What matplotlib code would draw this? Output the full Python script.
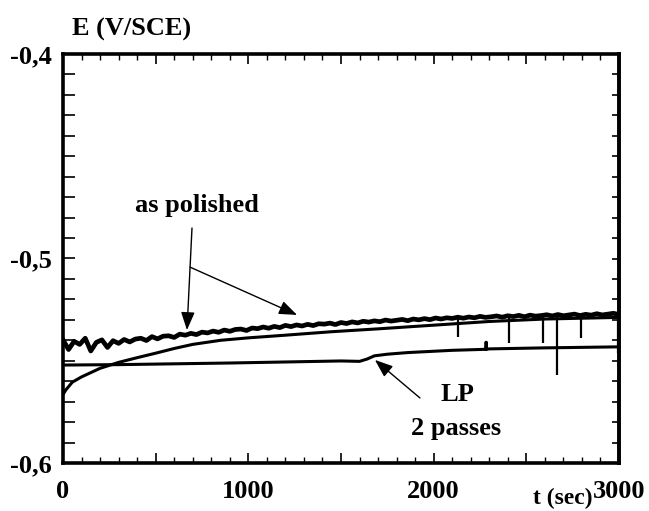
import numpy as np
import matplotlib
matplotlib.use("Agg")
import matplotlib.pyplot as plt
from matplotlib.ticker import MultipleLocator, FixedLocator

# "as polished" run 1 (noisy trace), read every 30 s
noisy_t = list(range(0, 3001, 30))
noisy_e = [
    -0.5398, -0.5445, -0.5405, -0.5420, -0.5390, -0.5452, -0.5410, -0.5398, -0.5435, -0.5402,
    -0.5415, -0.5396, -0.5408, -0.5394, -0.5390, -0.5401, -0.5382, -0.5393, -0.5380, -0.5378,
    -0.5386, -0.5370, -0.5375, -0.5366, -0.5372, -0.5360, -0.5364, -0.5355, -0.5361, -0.5350,
    -0.5356, -0.5347, -0.5345, -0.5352, -0.5340, -0.5343, -0.5335, -0.5341, -0.5332, -0.5338,
    -0.5327, -0.5333, -0.5325, -0.5330, -0.5322, -0.5328, -0.5319, -0.5321, -0.5316, -0.5323,
    -0.5313, -0.5318, -0.5310, -0.5315, -0.5307, -0.5311, -0.5305, -0.5309, -0.5301, -0.5306,
    -0.5302, -0.5298, -0.5304, -0.5296, -0.5300, -0.5294, -0.5299, -0.5291, -0.5296, -0.5290,
    -0.5293, -0.5287, -0.5292, -0.5286, -0.5290, -0.5283, -0.5288, -0.5285, -0.5281, -0.5287,
    -0.5280, -0.5284, -0.5278, -0.5285, -0.5277, -0.5282, -0.5279, -0.5275, -0.5281, -0.5274,
    -0.5280, -0.5276, -0.5272, -0.5279, -0.5273, -0.5277, -0.5270, -0.5276, -0.5272, -0.5268,
    -0.5274,
]

# downward glitches on the noisy trace
spike_t = [2133, 2407, 2590, 2666, 2795, 2995]
spike_top = [-0.5290, -0.5285, -0.5282, -0.5280, -0.5278, -0.5275]
spike_bottom = [-0.5384, -0.5413, -0.5413, -0.5570, -0.5389, -0.5460]

# "as polished" run 2 (smooth trace)
smooth_t = [0, 15, 50, 100, 200, 300, 400, 500, 600, 700, 850, 1000, 1200, 1450,
            1700, 2000, 2300, 2600, 3000]
smooth_e = [-0.5665, -0.5643, -0.5605, -0.5579, -0.5537, -0.5508, -0.5485, -0.5463,
            -0.5440, -0.5420, -0.5400, -0.5388, -0.5375, -0.5358, -0.5344, -0.5326,
            -0.5308, -0.5296, -0.5288]

# LP, 2 passes
lp_t = [0, 300, 600, 900, 1200, 1500, 1600, 1640, 1680, 1750, 1860, 2100, 2283, 2283,
        2283, 2300, 2600, 3000]
lp_e = [-0.5521, -0.5519, -0.5515, -0.5511, -0.5506, -0.5501, -0.5503, -0.5492,
        -0.5476, -0.5468, -0.5460, -0.5449, -0.5444, -0.5410, -0.5444, -0.5442,
        -0.5437, -0.5432]

x_labels = ["0", "", "1000", "", "2000", "", "3000"]
y_labels = ["-0,6", "-0,5", "-0,4"]

FONT = "Liberation Serif"

fig = plt.figure(figsize=(6.49, 5.11), dpi=100)
ax = fig.add_axes([63 / 649, 1 - 463 / 511, 556 / 649, 409 / 511])

ax.plot(noisy_t, noisy_e, color="black", lw=3.4)
ax.vlines(spike_t, spike_bottom, spike_top, color="black", lw=1.6)
ax.plot(smooth_t, smooth_e, color="black", lw=2.2)
ax.plot(lp_t, lp_e, color="black", lw=2.2)

ax.set_xlim(0, 3000)
ax.set_ylim(-0.6, -0.4)

for s in ax.spines.values():
    s.set_linewidth(2.6)

ax.xaxis.set_major_locator(FixedLocator(range(0, 3001, 500)))
ax.set_xticklabels(x_labels)
ax.xaxis.set_minor_locator(MultipleLocator(100))
ax.yaxis.set_major_locator(FixedLocator([-0.6, -0.5, -0.4]))
ax.set_yticklabels(y_labels)
ax.yaxis.set_minor_locator(MultipleLocator(0.01))

ax.tick_params(axis="x", which="major", direction="in", length=7, width=1.2,
               top=True, pad=12)
ax.tick_params(axis="x", which="minor", direction="in", length=4.5, width=1.0, top=True)
ax.tick_params(axis="y", which="both", direction="in", length=8.5, width=1.2, pad=8)

# right side ticks are shorter
sec = ax.secondary_yaxis("right")
sec.yaxis.set_major_locator(FixedLocator([-0.6, -0.5, -0.4]))
sec.yaxis.set_minor_locator(MultipleLocator(0.01))
sec.tick_params(which="both", direction="in", length=5, width=1.2, labelright=False)
sec.spines["right"].set_linewidth(2.6)

for lab in ax.get_xticklabels() + ax.get_yticklabels():
    lab.set_fontfamily(FONT)
    lab.set_fontweight("bold")
    lab.set_fontsize(19)

txt = dict(family=FONT, weight="bold", color="black")
fig.text(72 / 649, 1 - 29 / 511, "E (V/SCE)", ha="left", va="center", fontsize=19, **txt)
fig.text(563 / 649, 1 - 498 / 511, "t (sec)", ha="center", va="center", fontsize=17, **txt)

ax.text(723, -0.4743, "as polished", ha="center", va="center", fontsize=19, **txt)
ax.text(2126, -0.5663, "LP", ha="center", va="center", fontsize=19, **txt)
ax.text(2121, -0.5829, "2 passes", ha="center", va="center", fontsize=19, **txt)

arrow = dict(arrowstyle="-|>,head_length=1.1,head_width=0.42", color="black",
             lw=1.0, shrinkA=0, shrinkB=0)
ax.annotate("", xy=(669, -0.5350), xytext=(696, -0.4851), arrowprops=arrow)
ax.annotate("", xy=(1263, -0.5276), xytext=(685, -0.5042), arrowprops=arrow)
ax.annotate("", xy=(1683, -0.5496), xytext=(1926, -0.5682), arrowprops=arrow)

fig.savefig("out.png", dpi=100)
